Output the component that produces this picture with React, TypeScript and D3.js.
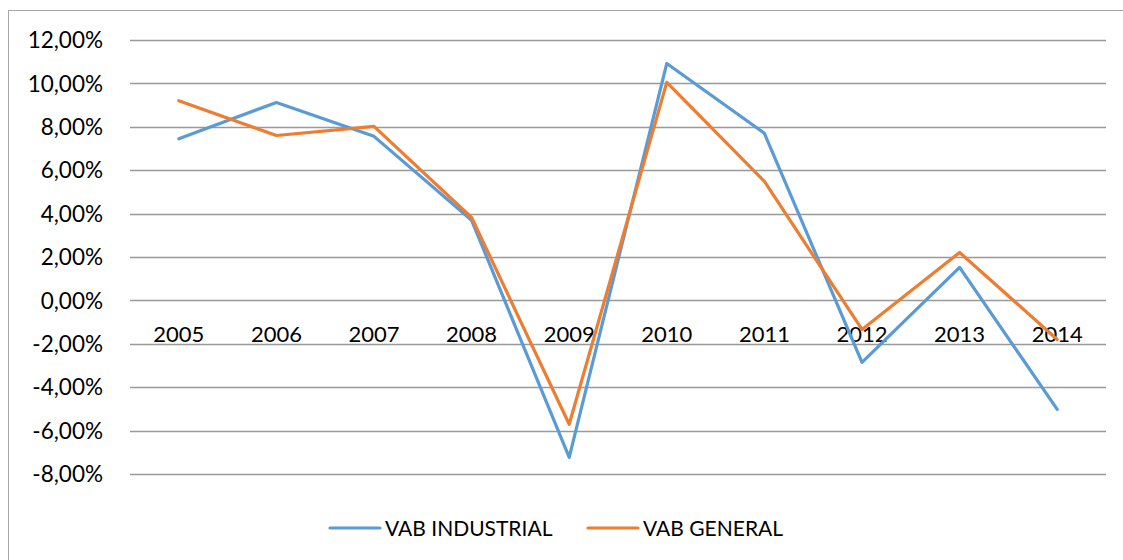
import React, { useRef, useEffect } from 'react';
import * as d3 from 'd3';

const years = ['2005', '2006', '2007', '2008', '2009', '2010', '2011', '2012', '2013', '2014'];
const industrial = [7.45, 9.12, 7.56, 3.69, -7.23, 10.92, 7.7, -2.86, 1.52, -5.02];
const general = [9.2, 7.6, 8.02, 3.82, -5.71, 10.05, 5.48, -1.34, 2.21, -1.8];
const yTicks = [12, 10, 8, 6, 4, 2, 0, -2, -4, -6, -8];
const seriesNames = ['VAB INDUSTRIAL', 'VAB GENERAL'];
const seriesColors = ['#5B9BD5', '#ED7D31'];

const W = 1123;
const H = 560;

const App = () => {
  const svgRef = useRef<SVGSVGElement>(null);

  useEffect(() => {
    const svg = d3.select(svgRef.current);
    svg.selectAll('*').remove();

    const font = 'Lato, "Open Sans", sans-serif';
    const left = 130, right = 1106, top = 40, bottom = 474;

    // chart area border
    svg.append('rect')
      .attr('x', 8.5).attr('y', 10.5)
      .attr('width', 1200).attr('height', 600)
      .attr('fill', 'white')
      .attr('stroke', '#a6a6a6')
      .attr('stroke-width', 1);

    const x = d3.scaleBand().domain(years).range([left, right]);
    const y = d3.scaleLinear().domain([-8, 12]).range([bottom, top]);

    // gridlines
    svg.append('g')
      .selectAll('line')
      .data(yTicks)
      .enter()
      .append('line')
      .attr('x1', left).attr('x2', right)
      .attr('y1', d => Math.round(y(d)) + 0.5)
      .attr('y2', d => Math.round(y(d)) + 0.5)
      .attr('stroke', '#999')
      .attr('stroke-width', 1.3);

    // y tick labels, comma decimal and plain hyphen
    const fmt = (d: number) => d3.format('.2f')(d).replace('.', ',').replace('−', '-') + '%';
    svg.append('g')
      .selectAll('text')
      .data(yTicks)
      .enter()
      .append('text')
      .attr('x', 103)
      .attr('y', d => y(d))
      .attr('dy', '0.36em')
      .attr('text-anchor', 'end')
      .attr('font-family', font)
      .attr('font-size', 22.5)
      .attr('fill', '#000')
      .text(d => fmt(d));

    // category labels (drawn just below the zero line)
    svg.append('g')
      .selectAll('text')
      .data(years)
      .enter()
      .append('text')
      .attr('x', d => (x(d) as number) + x.bandwidth() / 2)
      .attr('y', y(0) + 42)
      .attr('text-anchor', 'middle')
      .attr('font-family', font)
      .attr('font-size', 22)
      .attr('fill', '#000')
      .text(d => d);

    // lines
    const line = d3.line<number>()
      .x((_, i) => (x(years[i]) as number) + x.bandwidth() / 2)
      .y(d => y(d));

    [industrial, general].forEach((vals, i) => {
      svg.append('path')
        .datum(vals)
        .attr('d', line)
        .attr('fill', 'none')
        .attr('stroke', seriesColors[i])
        .attr('stroke-width', 3.2)
        .attr('stroke-linejoin', 'round')
        .attr('stroke-linecap', 'round');
    });

    // legend
    const legendX = [330, 588];
    seriesNames.forEach((name, i) => {
      const g = svg.append('g').attr('transform', `translate(${legendX[i]}, 528)`);
      g.append('line')
        .attr('x1', 0).attr('x2', 50)
        .attr('y1', 0).attr('y2', 0)
        .attr('stroke', seriesColors[i])
        .attr('stroke-width', 3.2)
        .attr('stroke-linecap', 'round');
      g.append('text')
        .attr('x', 55)
        .attr('y', 0)
        .attr('dy', '0.36em')
        .attr('font-family', font)
        .attr('font-size', 21)
        .attr('fill', '#000')
        .text(name);
    });
  }, []);

  return (
    <div style={{ position: 'absolute', left: 0, top: 0 }}>
      <svg ref={svgRef} width={W} height={H} style={{ display: 'block' }}></svg>
    </div>
  );
};

export default App;
